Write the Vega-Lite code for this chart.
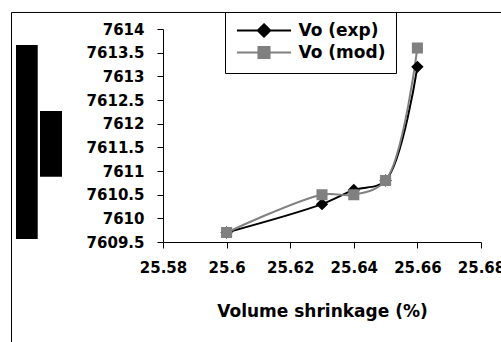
{
  "$schema": "https://vega.github.io/schema/vega-lite/v6.json",
  "autosize": {"type": "none"},
  "width": 318,
  "height": 213,
  "padding": {"left": 163, "top": 29, "right": 20, "bottom": 100},
  "background": "white",
  "config": {
    "view": {"stroke": null},
    "axis": {
      "grid": false,
      "domainColor": "black",
      "tickColor": "black",
      "labelColor": "black",
      "titleColor": "black",
      "labelFont": "DejaVu Sans",
      "labelFontWeight": "bold",
      "labelFontSize": 15,
      "labelOverlap": false,
      "labelFlush": false,
      "titleFont": "DejaVu Sans",
      "titleFontWeight": "bold",
      "titleFontSize": 17,
      "tickSize": 6,
      "domainWidth": 1,
      "tickWidth": 1
    },
    "legend": {
      "strokeColor": "black",
      "fillColor": "white"
    }
  },
  "datasets": {
    "vo": [
      {"shrinkage": 25.60, "Vo": 7609.7, "series": "Vo (exp)"},
      {"shrinkage": 25.63, "Vo": 7610.3, "series": "Vo (exp)"},
      {"shrinkage": 25.64, "Vo": 7610.6, "series": "Vo (exp)"},
      {"shrinkage": 25.65, "Vo": 7610.8, "series": "Vo (exp)"},
      {"shrinkage": 25.66, "Vo": 7613.2, "series": "Vo (exp)"},
      {"shrinkage": 25.60, "Vo": 7609.7, "series": "Vo (mod)"},
      {"shrinkage": 25.63, "Vo": 7610.5, "series": "Vo (mod)"},
      {"shrinkage": 25.64, "Vo": 7610.5, "series": "Vo (mod)"},
      {"shrinkage": 25.65, "Vo": 7610.8, "series": "Vo (mod)"},
      {"shrinkage": 25.66, "Vo": 7613.6, "series": "Vo (mod)"}
    ]
  },
  "layer": [
    {
      "data": {"name": "vo"},
      "mark": {"type": "line", "interpolate": "catmull-rom", "strokeWidth": 2},
      "encoding": {
        "x": {
          "field": "shrinkage", "type": "quantitative",
          "scale": {"domain": [25.58, 25.68], "nice": false, "zero": false},
          "axis": {"values": [25.58, 25.6, 25.62, 25.64, 25.66, 25.68], "labelExpr": "format(datum.value, '~g')", "labelOverlap": false, "labelFlush": false, "labelPadding": 12, "title": "Volume shrinkage (%)", "titlePadding": 28}
        },
        "y": {
          "field": "Vo", "type": "quantitative",
          "scale": {"domain": [7609.5, 7614], "nice": false, "zero": false},
          "axis": {"values": [7609.5, 7610, 7610.5, 7611, 7611.5, 7612, 7612.5, 7613, 7613.5, 7614], "labelExpr": "format(datum.value, '~g')", "labelOverlap": false, "labelFlush": false, "labelPadding": 13, "title": null}
        },
        "color": {
          "field": "series", "type": "nominal",
          "scale": {"domain": ["Vo (exp)", "Vo (mod)"], "range": ["black", "#808080"]}
        }
      }
    },
    {
      "data": {"name": "vo"},
      "mark": {"type": "point", "filled": true, "opacity": 1, "size": 170, "strokeWidth": 0},
      "encoding": {
        "x": {
          "field": "shrinkage", "type": "quantitative",
          "scale": {"domain": [25.58, 25.68], "nice": false, "zero": false},
          "axis": {"values": [25.58, 25.6, 25.62, 25.64, 25.66, 25.68], "labelExpr": "format(datum.value, '~g')", "labelOverlap": false, "labelFlush": false, "labelPadding": 12, "title": "Volume shrinkage (%)", "titlePadding": 28}
        },
        "y": {
          "field": "Vo", "type": "quantitative",
          "scale": {"domain": [7609.5, 7614], "nice": false, "zero": false},
          "axis": {"values": [7609.5, 7610, 7610.5, 7611, 7611.5, 7612, 7612.5, 7613, 7613.5, 7614], "labelExpr": "format(datum.value, '~g')", "labelOverlap": false, "labelFlush": false, "labelPadding": 13, "title": null}
        },
        "color": {
          "field": "series", "type": "nominal",
          "scale": {"domain": ["Vo (exp)", "Vo (mod)"], "range": ["black", "#808080"]},
          "legend": {
            "orient": "none", "legendX": 62, "legendY": -17, "title": null,
            "strokeColor": "black", "fillColor": "white", "padding": 10,
            "labelFont": "DejaVu Sans", "labelFontWeight": "bold", "labelFontSize": 17, "labelColor": "black",
            "labelOffset": 26, "symbolOffset": 20.5, "symbolSize": 170, "symbolStrokeWidth": 2, "symbolOpacity": 1, "rowPadding": 1
          }
        },
        "stroke": {
          "field": "series", "type": "nominal",
          "scale": {"domain": ["Vo (exp)", "Vo (mod)"], "range": ["black", "#808080"]},
          "legend": {
            "orient": "none", "legendX": 62, "legendY": -17, "title": null,
            "strokeColor": "black", "fillColor": "white", "padding": 10,
            "labelFont": "DejaVu Sans", "labelFontWeight": "bold", "labelFontSize": 17, "labelColor": "black",
            "labelOffset": 26, "symbolOffset": 20.5, "symbolSize": 170, "symbolStrokeWidth": 2, "symbolOpacity": 1, "rowPadding": 1
          }
        },
        "shape": {
          "field": "series", "type": "nominal",
          "scale": {
            "domain": ["Vo (exp)", "Vo (mod)"],
            "range": ["M-4.15,0H4.15M0,-0.95L0.95,0L0,0.95L-0.95,0Z", "M-4.15,0H4.15M-0.85,-0.85H0.85V0.85H-0.85Z"]
          },
          "legend": {
            "orient": "none", "legendX": 62, "legendY": -17, "title": null,
            "strokeColor": "black", "fillColor": "white", "padding": 10,
            "labelFont": "DejaVu Sans", "labelFontWeight": "bold", "labelFontSize": 17, "labelColor": "black",
            "labelOffset": 26, "symbolOffset": 20.5, "symbolSize": 170, "symbolStrokeWidth": 2, "symbolOpacity": 1, "rowPadding": 1
          }
        }
      }
    },
    {
      "data": {"values": [{}]},
      "mark": {"type": "rect", "fill": null, "stroke": "black", "strokeWidth": 1, "clip": false},
      "encoding": {
        "x": {
          "datum": 25.53236, "type": "quantitative",
          "scale": {"domain": [25.58, 25.68], "nice": false, "zero": false},
          "axis": {"values": [25.58, 25.6, 25.62, 25.64, 25.66, 25.68], "labelExpr": "format(datum.value, '~g')", "labelOverlap": false, "labelFlush": false, "labelPadding": 12, "title": "Volume shrinkage (%)", "titlePadding": 28}
        },
        "x2": {"datum": 25.75},
        "y": {
          "datum": 7614.349, "type": "quantitative",
          "scale": {"domain": [7609.5, 7614], "nice": false, "zero": false},
          "axis": {"values": [7609.5, 7610, 7610.5, 7611, 7611.5, 7612, 7612.5, 7613, 7613.5, 7614], "labelExpr": "format(datum.value, '~g')", "labelOverlap": false, "labelFlush": false, "labelPadding": 13, "title": null}
        },
        "y2": {"datum": 7605}
      }
    },
    {
      "data": {"values": [{}]},
      "mark": {"type": "rect", "fill": "black", "clip": false},
      "encoding": {
        "x": {
          "datum": 25.53377, "type": "quantitative",
          "scale": {"domain": [25.58, 25.68], "nice": false, "zero": false},
          "axis": {"values": [25.58, 25.6, 25.62, 25.64, 25.66, 25.68], "labelExpr": "format(datum.value, '~g')", "labelOverlap": false, "labelFlush": false, "labelPadding": 12, "title": "Volume shrinkage (%)", "titlePadding": 28}
        },
        "x2": {"datum": 25.5406},
        "y": {
          "datum": 7613.662, "type": "quantitative",
          "scale": {"domain": [7609.5, 7614], "nice": false, "zero": false},
          "axis": {"values": [7609.5, 7610, 7610.5, 7611, 7611.5, 7612, 7612.5, 7613, 7613.5, 7614], "labelExpr": "format(datum.value, '~g')", "labelOverlap": false, "labelFlush": false, "labelPadding": 13, "title": null}
        },
        "y2": {"datum": 7609.563}
      }
    },
    {
      "data": {"values": [{}]},
      "mark": {"type": "rect", "fill": "black", "clip": false},
      "encoding": {
        "x": {
          "datum": 25.54132, "type": "quantitative",
          "scale": {"domain": [25.58, 25.68], "nice": false, "zero": false},
          "axis": {"values": [25.58, 25.6, 25.62, 25.64, 25.66, 25.68], "labelExpr": "format(datum.value, '~g')", "labelOverlap": false, "labelFlush": false, "labelPadding": 12, "title": "Volume shrinkage (%)", "titlePadding": 28}
        },
        "x2": {"datum": 25.54824},
        "y": {
          "datum": 7612.268, "type": "quantitative",
          "scale": {"domain": [7609.5, 7614], "nice": false, "zero": false},
          "axis": {"values": [7609.5, 7610, 7610.5, 7611, 7611.5, 7612, 7612.5, 7613, 7613.5, 7614], "labelExpr": "format(datum.value, '~g')", "labelOverlap": false, "labelFlush": false, "labelPadding": 13, "title": null}
        },
        "y2": {"datum": 7610.88}
      }
    }
  ]
}
